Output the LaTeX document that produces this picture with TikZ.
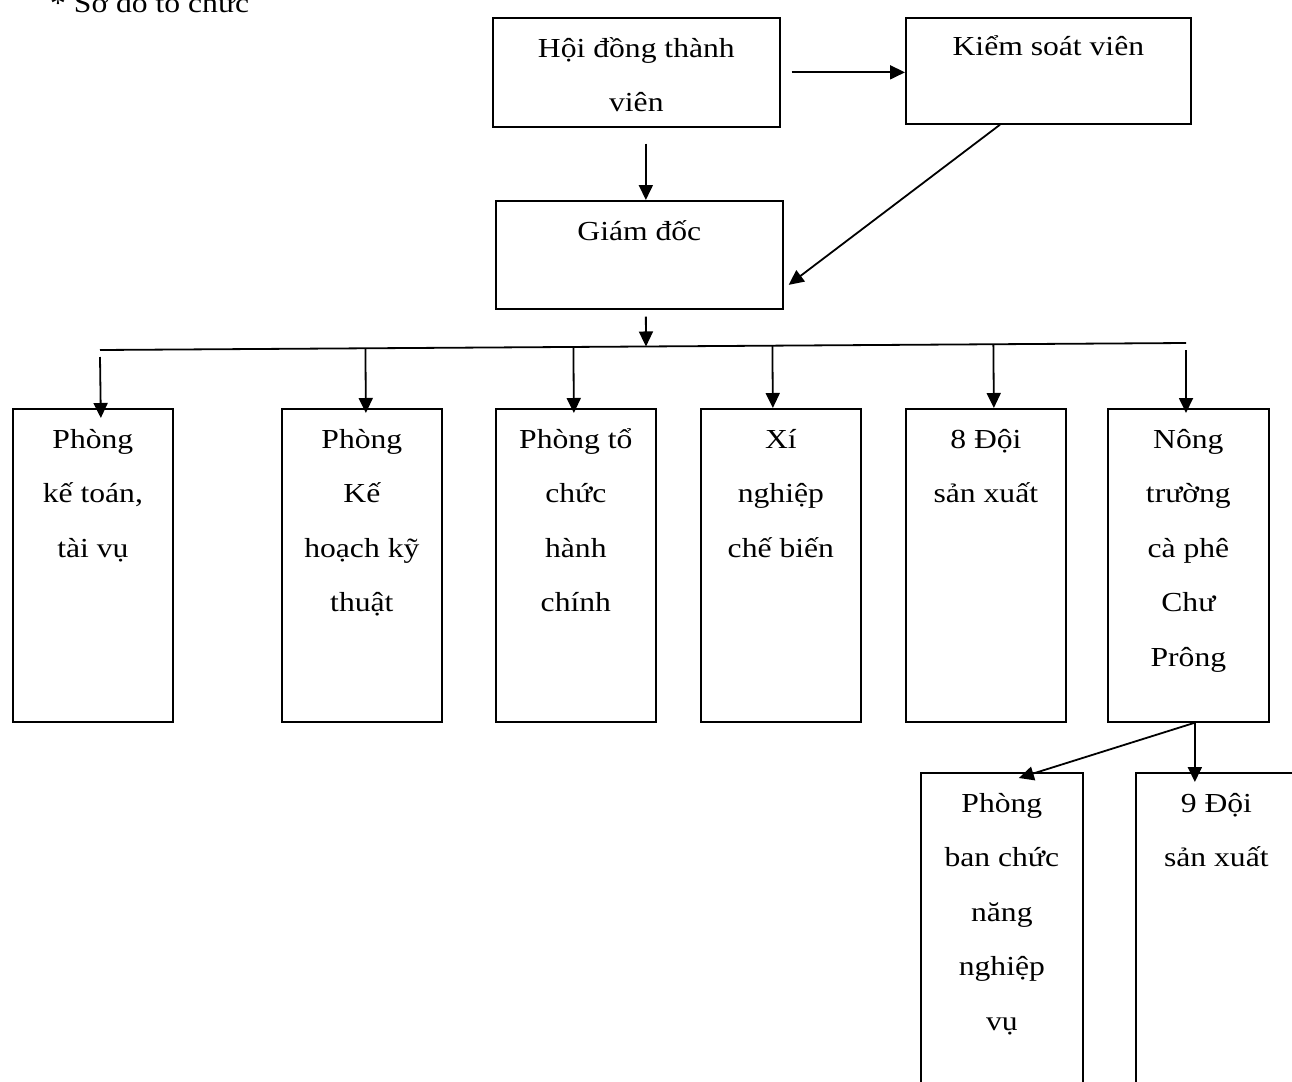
\documentclass[tikz,border=0pt]{standalone}
\usepackage{fontspec}
\setmainfont[FakeStretch=1.15]{Liberation Serif}
\usetikzlibrary{arrows.meta,calc}
\begin{document}
\begin{tikzpicture}[x=1pt,y=-1pt,
  box/.style={draw, line width=1.7pt, anchor=north west, inner sep=0pt, minimum width=160pt, minimum height=313pt},
  txt/.style={anchor=north, align=center, inner sep=0pt, font=\fontsize{27.5}{54.5}\selectfont},
  ln/.style={line width=1.8pt},
  arr/.style={line width=1.8pt, -{Triangle[length=15pt,width=14pt]}}]
\useasboundingbox (0,0) rectangle (1292,1081);
\fill[white] (0,0) rectangle (1292,1081);

\node[anchor=base west, inner sep=0pt, font=\fontsize{27.5}{54.5}\selectfont] (title) at (50,13) {* Sơ đồ tổ chức};

% top boxes
\node[box, minimum width=287pt, minimum height=109pt] (hd) at (492,17) {};
\node[txt] (hdt) at ([yshift=-2pt]hd.north) {\strut Hội đồng thành\\viên};
\node[box, minimum width=285pt, minimum height=106pt] (ksv) at (905,17) {};
\node[txt] (ksvt) at ([yshift=0pt]ksv.north) {\strut Kiểm soát viên};
\node[box, minimum width=287pt, minimum height=108pt] (gd) at (495,200) {};
\node[txt] (gdt) at ([yshift=-2pt]gd.north) {\strut Giám đốc};

% row boxes
\node[box] (b1) at (12,408) {};
\node[txt] (b1t) at ([yshift=-2pt]b1.north) {\strut Phòng\\kế toán,\\tài vụ};
\node[box] (b2) at (281,408) {};
\node[txt] (b2t) at ([yshift=-2pt]b2.north) {\strut Phòng\\Kế\\hoạch kỹ\\thuật};
\node[box] (b3) at (495,408) {};
\node[txt] (b3t) at ([yshift=-2pt]b3.north) {\strut Phòng tổ\\chức\\hành\\chính};
\node[box] (b4) at (700,408) {};
\node[txt] (b4t) at ([yshift=-2pt]b4.north) {\strut Xí\\nghiệp\\chế biến};
\node[box] (b5) at (905,408) {};
\node[txt] (b5t) at ([yshift=-2pt]b5.north) {\strut 8 Đội\\sản xuất};
\node[box, minimum width=161pt] (b6) at (1107,408) {};
\node[txt] (b6t) at ([yshift=-2pt]b6.north) {\strut Nông\\trường\\cà phê\\Chư\\Prông};

% bottom boxes
\node[box, minimum width=162pt, minimum height=400pt] (pb) at (920,772) {};
\node[txt] (pbt) at ([yshift=-2pt]pb.north) {\strut Phòng\\ban chức\\năng\\nghiệp\\vụ};
\node[box, minimum width=165pt, minimum height=400pt] (d9) at (1135,772) {};
\node[txt] (d9t) at ([xshift=-2pt,yshift=-2pt]d9.north) {\strut 9 Đội\\sản xuất};

% connectors at top
\draw[arr] ([xshift=11pt]hd.east) -- (hd.east -| ksv.west);
\coordinate (h1) at ($(hd.south)+(9.5,16)$);
\draw[arr] (h1) -- (h1 |- gd.north);
\draw[arr] ($(ksv.south west)+(95,0)$) -- ($(gd.east)+(5,30)$);

% bus
\coordinate (busL) at (100,350);
\coordinate (busR) at (1186,343);
\draw[ln] (busL) -- (busR);
\coordinate (g1) at ($(gd.south)+(6.5,7)$);
\draw[arr] (g1) -- ($(busL)!(g1)!(busR)$);

\draw[arr] ([yshift=-7pt]busL) -- ([xshift=8pt,yshift=-10pt]b1.north);
\draw[arr] ($(busL)!([xshift=4pt]b2.north)!(busR)$) -- ([xshift=4pt,yshift=-5pt]b2.north);
\draw[arr] ($(busL)!([xshift=-2pt]b3.north)!(busR)$) -- ([xshift=-2pt,yshift=-5pt]b3.north);
\draw[arr] ($(busL)!([xshift=-8pt]b4.north)!(busR)$) -- ([xshift=-8pt,yshift=0pt]b4.north);
\draw[arr] ($(busL)!([xshift=8pt]b5.north)!(busR)$) -- ([xshift=8pt,yshift=0pt]b5.north);
\coordinate (r6) at (busR |- b6.north);
\draw[arr] ([yshift=-7pt]busR) -- ([yshift=-5pt]r6);

% bottom connectors
\coordinate (n1) at ([xshift=6.5pt]b6.south);
\draw[arr] (n1) -- ($(pb.north)+(17,6)$);
\coordinate (n2) at (n1 |- d9.north);
\draw[arr] (n1) -- ([yshift=-10pt]n2);
\end{tikzpicture}
\end{document}
